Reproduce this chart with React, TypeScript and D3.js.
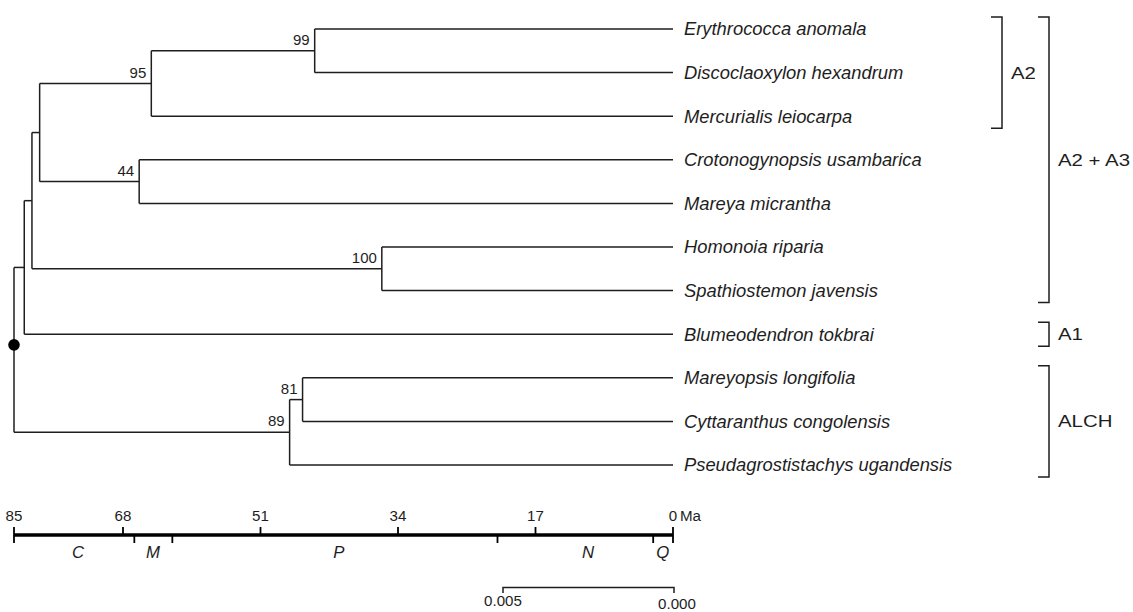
import { useEffect, useRef } from 'react';
import * as d3 from 'd3';

// Tips in drawing order (top to bottom)
const tipNames = [
  'Erythrococca anomala',
  'Discoclaoxylon hexandrum',
  'Mercurialis leiocarpa',
  'Crotonogynopsis usambarica',
  'Mareya micrantha',
  'Homonoia riparia',
  'Spathiostemon javensis',
  'Blumeodendron tokbrai',
  'Mareyopsis longifolia',
  'Cyttaranthus congolensis',
  'Pseudagrostistachys ugandensis',
];
const tipParents = ['n99', 'n99', 'n95', 'n44', 'n44', 'n100', 'n100', 'nZ', 'n81', 'n81', 'n89'];

// Internal nodes: id, parent, age (Ma), support value
const cladeIds = ['root', 'nZ', 'nY', 'nX', 'n95', 'n99', 'n44', 'n100', 'n89', 'n81'];
const cladeParents = ['', 'root', 'nZ', 'nY', 'nX', 'n95', 'nX', 'nY', 'root', 'n89'];
const cladeAges = [85, 83.4, 82.2, 81.0, 64.5, 44.3, 66.0, 36.0, 47.4, 45.8];
const cladeSupport = ['', '', '', '', '95', '99', '44', '100', '89', '81'];

// Time scale
const timeTicks = [85, 68, 51, 34, 17, 0];
const epochBounds = [66.6, 61.9, 21.7, 2.45];
const epochNames = ['C', 'M', 'P', 'N', 'Q'];
const epochLabelAges = [75.0, 64.3, 41.3, 10.5, 1.25];

// Substitution scale bar
const subsTicks = [0.005, 0.0];

// Clade brackets
const groupLabels = ['A2', 'A2 + A3', 'A1', 'ALCH'];
const groupFirstTip = [0, 0, 7, 8];
const groupLastTip = [2, 6, 7, 10];
const groupColumn = [0, 1, 1, 1];

const W = 1133;
const H = 612;
const FONT = '"Liberation Sans", Arial, Helvetica, sans-serif';
const INK = '#1e1e1e';

type Row = { id: string; parent: string; age: number; support: string; name?: string };

const App = () => {
  const svgRef = useRef<SVGSVGElement>(null);

  useEffect(() => {
    if (!svgRef.current) return;
    const svg = d3.select(svgRef.current);
    svg.selectAll('*').remove();

    const x = d3.scaleLinear().domain([85, 68, 0]).range([14, 123, 673]);
    const y = d3.scaleLinear().domain([0, tipNames.length - 1]).range([29, 465]);

    const rows: Row[] = [
      ...cladeIds.map((id, i) => ({ id, parent: cladeParents[i], age: cladeAges[i], support: cladeSupport[i] })),
      ...tipNames.map((name, i) => ({ id: 't' + i, parent: tipParents[i], age: 0, support: '', name })),
    ];
    const root = d3
      .stratify<Row>()
      .id(d => d.id)
      .parentId(d => (d.parent === '' ? null : d.parent))(rows);

    // y positions: tips by order, internal nodes at midpoint of children
    const ypos = new Map<string, number>();
    root.eachAfter(n => {
      if (!n.children) {
        ypos.set(n.id!, y(+n.id!.slice(1)));
      } else {
        const ys = n.children.map(c => ypos.get(c.id!)!);
        ypos.set(n.id!, (d3.min(ys)! + d3.max(ys)!) / 2);
      }
    });

    const text = (
      g: d3.Selection<any, any, any, any>,
      tx: number,
      ty: number,
      str: string,
      size: number,
      sx: number,
      anchor = 'start',
      italic = false,
      dy = '0'
    ) =>
      g
        .append('text')
        .attr('transform', `translate(${tx},${ty}) scale(${sx},1)`)
        .attr('dy', dy)
        .attr('text-anchor', anchor)
        .attr('font-family', FONT)
        .attr('font-size', size)
        .attr('font-style', italic ? 'italic' : 'normal')
        .attr('fill', INK)
        .text(str);

    const tree = svg.append('g').attr('stroke', INK).attr('stroke-width', 1.5).attr('fill', 'none');

    // horizontal branches
    root.descendants().forEach(n => {
      if (!n.parent) return;
      const yy = ypos.get(n.id!)!;
      tree
        .append('line')
        .attr('x1', x(n.parent.data.age))
        .attr('x2', x(n.data.age))
        .attr('y1', yy)
        .attr('y2', yy);
    });
    // vertical connectors
    root.descendants().forEach(n => {
      if (!n.children) return;
      const ys = n.children.map(c => ypos.get(c.id!)!);
      const xx = x(n.data.age);
      tree
        .append('line')
        .attr('x1', xx)
        .attr('x2', xx)
        .attr('y1', d3.min(ys)!)
        .attr('y2', d3.max(ys)!);
    });

    // root dot
    svg
      .append('circle')
      .attr('cx', x(root.data.age))
      .attr('cy', ypos.get('root')! - 5)
      .attr('r', 5.8)
      .attr('fill', '#000');

    // support values
    const labels = svg.append('g');
    root.descendants().forEach(n => {
      if (!n.data.support) return;
      text(labels, x(n.data.age) - 5, ypos.get(n.id!)! - 6, n.data.support, 15, 1.0, 'end');
    });

    // tip names
    root.leaves().forEach(n => {
      text(labels, x(0) + 11, ypos.get(n.id!)!, n.data.name!, 18, 1.02, 'start', true, '0.35em');
    });

    // brackets
    const br = svg.append('g');
    const colX = [1002, 1049];
    groupLabels.forEach((lab, i) => {
      const y1 = y(groupFirstTip[i]) - 12;
      const y2 = y(groupLastTip[i]) + 12;
      const bx = colX[groupColumn[i]];
      br.append('path')
        .attr('d', `M${bx - 11},${y1}H${bx}V${y2}H${bx - 11}`)
        .attr('fill', 'none')
        .attr('stroke', INK)
        .attr('stroke-width', 1.5);
      text(br, bx + 9, (y1 + y2) / 2, lab, 17, 1.2, 'start', false, '0.35em');
    });

    // geological time scale
    const ts = svg.append('g');
    const axisY = 535;
    ts.append('line')
      .attr('x1', x(85)).attr('x2', x(0))
      .attr('y1', axisY).attr('y2', axisY)
      .attr('stroke', '#000').attr('stroke-width', 3.5);
    timeTicks.forEach((t, i) => {
      const isEnd = i === 0 || i === timeTicks.length - 1;
      ts.append('line')
        .attr('x1', x(t)).attr('x2', x(t))
        .attr('y1', axisY - 8).attr('y2', isEnd ? axisY + 8 : axisY)
        .attr('stroke', '#000').attr('stroke-width', 1.8);
      text(ts, x(t), axisY - 14, String(t), 14, 1.08, 'middle');
    });
    text(ts, x(0) + 7, axisY - 14, 'Ma', 14, 1.08, 'start');
    epochBounds.forEach(b => {
      ts.append('line')
        .attr('x1', x(b)).attr('x2', x(b))
        .attr('y1', axisY).attr('y2', axisY + 8)
        .attr('stroke', '#000').attr('stroke-width', 1.8);
    });
    epochNames.forEach((e, i) => {
      text(ts, x(epochLabelAges[i]), axisY + 23, e, 16, 1.05, 'middle', true);
    });

    // substitution scale bar
    const s = d3.scaleLinear().domain([0, 0.005]).range([674, 503]);
    const sb = svg.append('g');
    sb.append('path')
      .attr('d', `M${s(0.005)},${593}V${587.5}H${s(0)}V${593}`)
      .attr('fill', 'none')
      .attr('stroke', INK)
      .attr('stroke-width', 1.5);
    subsTicks.forEach((t, i) => {
      text(sb, s(t) + (i === 1 ? 3 : 0), i === 1 ? 609 : 606, t.toFixed(3), 14, 1.08, 'middle');
    });
  }, []);

  return (
    <svg
      ref={svgRef}
      width={W}
      height={H}
      style={{ position: 'absolute', left: 0, top: 0, background: '#fff' }}
    />
  );
};

export default App;
